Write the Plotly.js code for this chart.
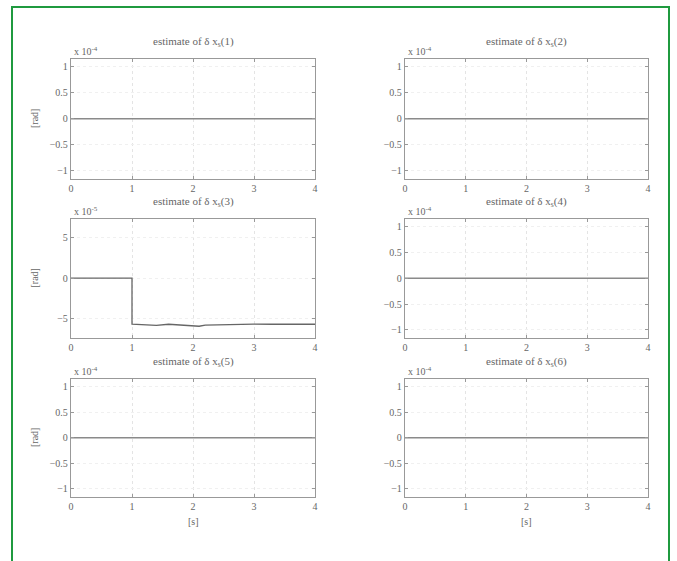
<!DOCTYPE html>
<html>
<head>
<meta charset="utf-8">
<script src="https://cdn.plot.ly/plotly-3.0.1.min.js"></script>
<style>html,body{margin:0;padding:0;background:#fff}#chart{width:677px;height:561px}</style>
</head>
<body>
<div id="chart"></div>
<script>
// ---- data ----
const panelTitles = [
  "estimate of δ x<sub>s</sub>(1)", "estimate of δ x<sub>s</sub>(2)",
  "estimate of δ x<sub>s</sub>(3)", "estimate of δ x<sub>s</sub>(4)",
  "estimate of δ x<sub>s</sub>(5)", "estimate of δ x<sub>s</sub>(6)"
];
const exponentLabels = ["x 10<sup>-4</sup>", "x 10<sup>-4</sup>", "x 10<sup>-5</sup>", "x 10<sup>-4</sup>", "x 10<sup>-4</sup>", "x 10<sup>-4</sup>"];
const xTickVals = [0, 1, 2, 3, 4];
const xTickText = ["0", "1", "2", "3", "4"];
const yTickVals = [-1, -0.5, 0, 0.5, 1];
const yTickText = ["−1", "−0.5", "0", "0.5", "1"];
const yTickVals3 = [-5, 0, 5];
const yTickText3 = ["−5", "0", "5"];

const t1 = [0, 4], v1 = [0, 0];
const t2 = [0, 4], v2 = [0, 0];
const t3 = [0, 1, 1, 1.2, 1.4, 1.6, 1.8, 2.0, 2.1, 2.2, 2.4, 2.6, 2.8, 3.0, 3.3, 3.6, 4.0];
const v3 = [0, 0, -5.7, -5.75, -5.85, -5.7, -5.8, -5.85, -5.95, -5.8, -5.75, -5.7, -5.72, -5.68, -5.7, -5.68, -5.7];
const t4 = [0, 4], v4 = [0, 0];
const t5 = [0, 4], v5 = [0, 0];
const t6 = [0, 4], v6 = [0, 0];
const series = [[t1, v1], [t2, v2], [t3, v3], [t4, v4], [t5, v5], [t6, v6]];

// ---- layout geometry ----
const W = 677, H = 561;
const colX = [[71, 315], [405, 648]];
const rowY = [[59, 179], [219, 338], [379, 497]];
const px = x => x / W;
const py = y => 1 - y / H;

const font = "Liberation Serif, Times New Roman, serif";
const txtColor = "#666";
const traces = [];
const layout = {
  width: W, height: H,
  margin: {l: 0, r: 0, t: 0, b: 0},
  paper_bgcolor: "#fff", plot_bgcolor: "#fff",
  showlegend: false,
  font: {family: font, size: 10, color: txtColor},
  annotations: [], shapes: []
};

for (let i = 0; i < 6; i++) {
  const col = i % 2, row = Math.floor(i / 2);
  const sfx = i === 0 ? "" : String(i + 1);
  const [x0, x1] = colX[col];
  const [y0, y1] = rowY[row];
  traces.push({
    x: series[i][0], y: series[i][1],
    xaxis: "x" + sfx, yaxis: "y" + sfx,
    type: "scatter", mode: "lines",
    line: {color: i === 2 ? "#666" : "#8a8a8a", width: i === 2 ? 1.3 : 1.6}
  });
  const is3 = i === 2;
  layout["xaxis" + sfx] = {
    domain: [px(x0), px(x1)], anchor: "y" + sfx,
    range: [0, 4], tickvals: xTickVals, ticktext: xTickText,
    ticks: "inside", ticklen: 3, tickcolor: "#999",
    showline: true, linecolor: "#999", linewidth: 1.3, mirror: "ticks",
    showgrid: true, gridcolor: "#e4e4e4", griddash: "dot", gridwidth: 1,
    zeroline: false, tickfont: {family: font, size: 10, color: txtColor}
  };
  layout["yaxis" + sfx] = {
    domain: [py(y1), py(y0)], anchor: "x" + sfx,
    range: is3 ? [-7.4, 7.3] : [-1.16, 1.15],
    tickvals: is3 ? yTickVals3 : yTickVals, ticktext: is3 ? yTickText3 : yTickText,
    ticks: "inside", ticklen: 3, tickcolor: "#999",
    showline: true, linecolor: "#999", linewidth: 1.3, mirror: "ticks",
    showgrid: true, gridcolor: "#f0f0f0", griddash: "dot", gridwidth: 1,
    zeroline: false, tickfont: {family: font, size: 10, color: txtColor}
  };
  // subplot title
  layout.annotations.push({
    text: panelTitles[i], xref: "paper", yref: "paper",
    x: px((x0 + x1) / 2), y: py(y0 - 17), xanchor: "center", yanchor: "middle",
    showarrow: false, font: {family: font, size: 11, color: txtColor}
  });
  // exponent label
  layout.annotations.push({
    text: exponentLabels[i], xref: "paper", yref: "paper",
    x: px(x0 + 1), y: py(y0 - 8), xanchor: "left", yanchor: "middle",
    showarrow: false, font: {family: font, size: 10, color: txtColor}
  });
  if (col === 0) {
    layout.annotations.push({
      text: "[rad]", xref: "paper", yref: "paper", textangle: -90,
      x: px(34), y: py((y0 + y1) / 2), xanchor: "center", yanchor: "middle",
      showarrow: false, font: {family: font, size: 10, color: txtColor}
    });
  }
  if (row === 2) {
    layout.annotations.push({
      text: "[s]", xref: "paper", yref: "paper",
      x: px((x0 + x1) / 2), y: py(y1 + 24), xanchor: "center", yanchor: "middle",
      showarrow: false, font: {family: font, size: 10, color: txtColor}
    });
  }
}

// green frame
layout.shapes.push({
  type: "rect", xref: "paper", yref: "paper",
  x0: px(12), x1: px(669), y0: -0.05, y1: py(7),
  line: {color: "#1f9a3f", width: 2}, fillcolor: "rgba(0,0,0,0)", layer: "above"
});

Plotly.newPlot("chart", traces, layout, {displayModeBar: false});
</script>
</body>
</html>
